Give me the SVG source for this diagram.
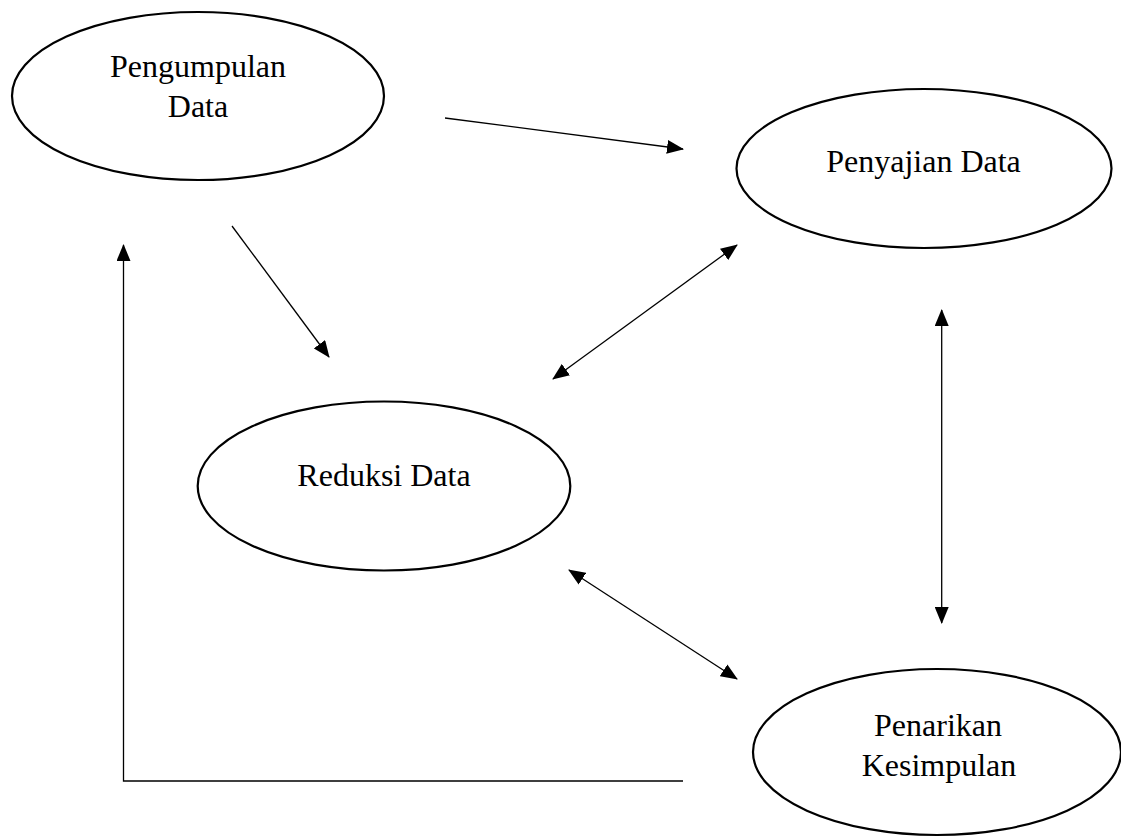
<svg xmlns="http://www.w3.org/2000/svg" width="1121" height="837" viewBox="0 0 1121 837">
<style>
.node ellipse{fill:#fff;stroke:#000;stroke-width:2.2}
.node text{font-family:"Liberation Serif","Times New Roman",serif;font-size:32px;fill:#000;text-anchor:middle}
.conn line,.conn polyline{stroke:#000;stroke-width:1.3;fill:none}
</style>
<defs>
<marker id="ah" markerUnits="userSpaceOnUse" markerWidth="17" markerHeight="14" refX="16" refY="7" orient="auto-start-reverse" viewBox="0 0 17 14">
<path d="M0,0 L17,7 L0,14 z" fill="#000"/>
</marker>
</defs>
<rect width="1121" height="837" fill="#fff"/>
<g id="pengumpulan" class="node">
<ellipse cx="198" cy="96" rx="186" ry="84"/>
<text x="198" y="77">Pengumpulan</text>
<text x="198" y="117">Data</text>
</g>
<g id="penyajian" class="node">
<ellipse cx="924" cy="168.5" rx="187.5" ry="79.5"/>
<text x="923.5" y="172">Penyajian Data</text>
</g>
<g id="reduksi" class="node">
<ellipse cx="384" cy="486" rx="186.3" ry="84.5"/>
<text x="384" y="486">Reduksi Data</text>
</g>
<g id="penarikan" class="node">
<ellipse cx="937" cy="752" rx="184" ry="83"/>
<text x="938" y="736">Penarikan</text>
<text x="939" y="776">Kesimpulan</text>
</g>
<g id="connectors" class="conn">
<line x1="445" y1="118" x2="683" y2="149" marker-end="url(#ah)"/>
<line x1="232" y1="226" x2="329" y2="357" marker-end="url(#ah)"/>
<line x1="553" y1="379" x2="737" y2="245" marker-start="url(#ah)" marker-end="url(#ah)"/>
<line x1="941.7" y1="310" x2="941.7" y2="623" marker-start="url(#ah)" marker-end="url(#ah)"/>
<line x1="569" y1="570" x2="737" y2="679" marker-start="url(#ah)" marker-end="url(#ah)"/>
<polyline points="683,781 123.5,781 123.5,245" marker-end="url(#ah)"/>
</g>
</svg>
